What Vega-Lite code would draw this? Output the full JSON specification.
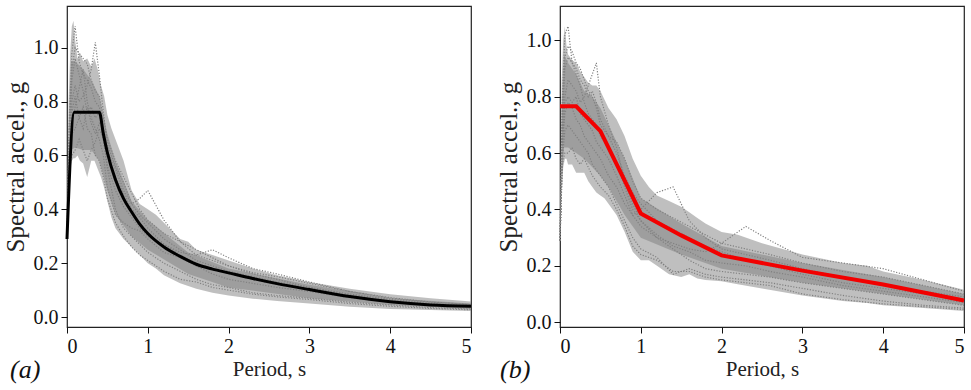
{
  "$schema": "https://vega.github.io/schema/vega-lite/v6.json",
  "background": "white",
  "padding": {"left": 2, "top": 5, "right": 5, "bottom": 0},
  "spacing": 17,
  "config": {
    "font": "Liberation Serif",
    "view": {"stroke": "#222222", "strokeWidth": 1.2},
    "axis": {
      "labelFontSize": 20,
      "titleFontSize": 21,
      "labelFont": "Liberation Serif",
      "titleFont": "Liberation Serif",
      "labelColor": "#111111",
      "titleColor": "#222222",
      "titleFontWeight": "normal",
      "tickColor": "#111111",
      "tickSize": 6,
      "labelPadding": 3,
      "domain": false,
      "grid": false
    },
    "axisY": {"titleFontSize": 25, "titlePadding": 5},
    "axisX": {"titlePadding": 2},
    "title": {"font": "Liberation Serif", "fontSize": 26, "fontStyle": "italic", "fontWeight": "normal", "color": "#111111"}
  },
  "hconcat": [
    {
      "width": 404,
      "height": 321,
      "title": {"text": "(a)", "orient": "bottom", "anchor": "start", "offset": -22, "dx": 7},
      "encoding": {
        "x": {"field": "T", "type": "quantitative", "scale": {"domain": [0, 5], "nice": false, "zero": false}, "axis": {"values": [0, 1, 2, 3, 4, 5], "title": "Period, s"}}
      },
      "layer": [
        {
          "data": {"values": [
            {"T": 0, "lo": 0.28, "hi": 0.3},
            {"T": 0.02, "lo": 0.45, "hi": 0.8},
            {"T": 0.04, "lo": 0.55, "hi": 0.98},
            {"T": 0.06, "lo": 0.58, "hi": 1.08},
            {"T": 0.08, "lo": 0.59, "hi": 1.1},
            {"T": 0.1, "lo": 0.59, "hi": 1.03},
            {"T": 0.13, "lo": 0.6, "hi": 0.96},
            {"T": 0.16, "lo": 0.58, "hi": 0.98},
            {"T": 0.2, "lo": 0.57, "hi": 0.95},
            {"T": 0.25, "lo": 0.52, "hi": 0.96},
            {"T": 0.3, "lo": 0.58, "hi": 0.93},
            {"T": 0.34, "lo": 0.58, "hi": 0.96},
            {"T": 0.38, "lo": 0.55, "hi": 0.92},
            {"T": 0.42, "lo": 0.52, "hi": 0.86},
            {"T": 0.46, "lo": 0.48, "hi": 0.82},
            {"T": 0.5, "lo": 0.43, "hi": 0.75},
            {"T": 0.55, "lo": 0.37, "hi": 0.7},
            {"T": 0.6, "lo": 0.33, "hi": 0.66},
            {"T": 0.7, "lo": 0.29, "hi": 0.58},
            {"T": 0.8, "lo": 0.26, "hi": 0.47},
            {"T": 0.9, "lo": 0.23, "hi": 0.42},
            {"T": 1.0, "lo": 0.2, "hi": 0.4},
            {"T": 1.1, "lo": 0.18, "hi": 0.38},
            {"T": 1.2, "lo": 0.155, "hi": 0.35},
            {"T": 1.4, "lo": 0.125, "hi": 0.29},
            {"T": 1.5, "lo": 0.115, "hi": 0.28},
            {"T": 1.6, "lo": 0.105, "hi": 0.25},
            {"T": 1.8, "lo": 0.09, "hi": 0.23},
            {"T": 2.0, "lo": 0.08, "hi": 0.21},
            {"T": 2.3, "lo": 0.068, "hi": 0.18},
            {"T": 2.6, "lo": 0.06, "hi": 0.155},
            {"T": 3.0, "lo": 0.05, "hi": 0.13},
            {"T": 3.5, "lo": 0.038, "hi": 0.105},
            {"T": 4.0, "lo": 0.03, "hi": 0.085},
            {"T": 4.5, "lo": 0.026, "hi": 0.07},
            {"T": 5.0, "lo": 0.022, "hi": 0.058}
          ]},
          "mark": {"type": "area", "color": "#9c9c9c", "opacity": 0.65},
          "encoding": {
            "y": {"field": "lo", "type": "quantitative", "scale": {"domain": [-0.037, 1.155], "nice": false, "zero": false}, "axis": {"values": [0, 0.2, 0.4, 0.6, 0.8, 1.0], "format": ".1f", "title": "Spectral accel., g"}},
            "y2": {"field": "hi"}
          }
        },
        {
          "data": {"values": [
            {"T": 0.02, "lo": 0.5, "hi": 0.7},
            {"T": 0.05, "lo": 0.62, "hi": 0.95},
            {"T": 0.1, "lo": 0.63, "hi": 0.95},
            {"T": 0.2, "lo": 0.62, "hi": 0.92},
            {"T": 0.3, "lo": 0.62, "hi": 0.88},
            {"T": 0.4, "lo": 0.58, "hi": 0.82},
            {"T": 0.5, "lo": 0.47, "hi": 0.68},
            {"T": 0.6, "lo": 0.38, "hi": 0.58},
            {"T": 0.8, "lo": 0.3, "hi": 0.43},
            {"T": 1.0, "lo": 0.25, "hi": 0.36},
            {"T": 1.5, "lo": 0.16, "hi": 0.24},
            {"T": 2.0, "lo": 0.11, "hi": 0.18},
            {"T": 3.0, "lo": 0.07, "hi": 0.12},
            {"T": 4.0, "lo": 0.045, "hi": 0.07},
            {"T": 5.0, "lo": 0.03, "hi": 0.05}
          ]},
          "mark": {"type": "area", "color": "#888888", "opacity": 0.6},
          "encoding": {
            "y": {"field": "lo", "type": "quantitative"},
            "y2": {"field": "hi"}
          }
        },
        {
          "data": {"values": [
            {"T": 0, "c1": 0.29, "c2": 0.29, "c3": 0.29, "c4": 0.29, "c5": 0.29, "c6": 0.29, "c7": 0.29, "c8": 0.29},
            {"T": 0.03, "c1": 0.75, "c2": 0.55, "c3": 0.65, "c4": 0.6, "c5": 0.62, "c6": 0.68, "c7": 0.58, "c8": 0.7},
            {"T": 0.06, "c1": 0.98, "c2": 0.6, "c3": 0.8, "c4": 0.72, "c5": 0.76, "c6": 0.88, "c7": 0.68, "c8": 0.92},
            {"T": 0.1, "c1": 1.08, "c2": 0.62, "c3": 0.86, "c4": 0.78, "c5": 0.82, "c6": 0.96, "c7": 0.7, "c8": 1.0},
            {"T": 0.15, "c1": 0.95, "c2": 0.66, "c3": 0.8, "c4": 0.85, "c5": 0.74, "c6": 0.9, "c7": 0.74, "c8": 0.98},
            {"T": 0.2, "c1": 0.9, "c2": 0.62, "c3": 0.82, "c4": 0.92, "c5": 0.7, "c6": 0.84, "c7": 0.78, "c8": 0.96},
            {"T": 0.25, "c1": 0.88, "c2": 0.58, "c3": 0.86, "c4": 0.8, "c5": 0.78, "c6": 0.76, "c7": 0.7, "c8": 0.94},
            {"T": 0.3, "c1": 0.85, "c2": 0.62, "c3": 0.92, "c4": 0.74, "c5": 0.72, "c6": 0.78, "c7": 0.68, "c8": 0.88},
            {"T": 0.35, "c1": 0.8, "c2": 0.65, "c3": 1.02, "c4": 0.7, "c5": 0.68, "c6": 0.74, "c7": 0.6, "c8": 0.84},
            {"T": 0.4, "c1": 0.78, "c2": 0.7, "c3": 0.9, "c4": 0.66, "c5": 0.72, "c6": 0.76, "c7": 0.58, "c8": 0.82},
            {"T": 0.45, "c1": 0.7, "c2": 0.66, "c3": 0.76, "c4": 0.6, "c5": 0.7, "c6": 0.66, "c7": 0.52, "c8": 0.74},
            {"T": 0.5, "c1": 0.6, "c2": 0.55, "c3": 0.64, "c4": 0.48, "c5": 0.62, "c6": 0.56, "c7": 0.44, "c8": 0.66},
            {"T": 0.6, "c1": 0.52, "c2": 0.4, "c3": 0.56, "c4": 0.38, "c5": 0.55, "c6": 0.47, "c7": 0.35, "c8": 0.58},
            {"T": 0.7, "c1": 0.46, "c2": 0.33, "c3": 0.5, "c4": 0.35, "c5": 0.47, "c6": 0.41, "c7": 0.3, "c8": 0.52},
            {"T": 0.8, "c1": 0.4, "c2": 0.3, "c3": 0.42, "c4": 0.33, "c5": 0.42, "c6": 0.37, "c7": 0.26, "c8": 0.46},
            {"T": 0.9, "c1": 0.37, "c2": 0.27, "c3": 0.38, "c4": 0.32, "c5": 0.44, "c6": 0.33, "c7": 0.23, "c8": 0.4},
            {"T": 1.0, "c1": 0.33, "c2": 0.24, "c3": 0.35, "c4": 0.29, "c5": 0.47, "c6": 0.3, "c7": 0.21, "c8": 0.36},
            {"T": 1.2, "c1": 0.27, "c2": 0.2, "c3": 0.29, "c4": 0.24, "c5": 0.36, "c6": 0.27, "c7": 0.17, "c8": 0.31},
            {"T": 1.4, "c1": 0.23, "c2": 0.17, "c3": 0.25, "c4": 0.22, "c5": 0.28, "c6": 0.24, "c7": 0.14, "c8": 0.28},
            {"T": 1.6, "c1": 0.2, "c2": 0.14, "c3": 0.21, "c4": 0.19, "c5": 0.23, "c6": 0.23, "c7": 0.13, "c8": 0.25},
            {"T": 1.8, "c1": 0.18, "c2": 0.12, "c3": 0.19, "c4": 0.16, "c5": 0.21, "c6": 0.25, "c7": 0.11, "c8": 0.22},
            {"T": 2.0, "c1": 0.16, "c2": 0.11, "c3": 0.17, "c4": 0.14, "c5": 0.19, "c6": 0.22, "c7": 0.1, "c8": 0.19},
            {"T": 2.3, "c1": 0.14, "c2": 0.09, "c3": 0.15, "c4": 0.125, "c5": 0.16, "c6": 0.18, "c7": 0.085, "c8": 0.165},
            {"T": 2.6, "c1": 0.12, "c2": 0.08, "c3": 0.13, "c4": 0.11, "c5": 0.14, "c6": 0.16, "c7": 0.075, "c8": 0.15},
            {"T": 3.0, "c1": 0.1, "c2": 0.07, "c3": 0.11, "c4": 0.095, "c5": 0.11, "c6": 0.13, "c7": 0.065, "c8": 0.125},
            {"T": 3.5, "c1": 0.075, "c2": 0.055, "c3": 0.08, "c4": 0.072, "c5": 0.085, "c6": 0.095, "c7": 0.05, "c8": 0.095},
            {"T": 4.0, "c1": 0.058, "c2": 0.045, "c3": 0.06, "c4": 0.055, "c5": 0.065, "c6": 0.072, "c7": 0.04, "c8": 0.07},
            {"T": 4.5, "c1": 0.046, "c2": 0.035, "c3": 0.047, "c4": 0.043, "c5": 0.05, "c6": 0.056, "c7": 0.032, "c8": 0.055},
            {"T": 5.0, "c1": 0.038, "c2": 0.03, "c3": 0.04, "c4": 0.036, "c5": 0.042, "c6": 0.046, "c7": 0.027, "c8": 0.047}
          ]},
          "transform": [{"fold": ["c1", "c2", "c3", "c4", "c5", "c6", "c7", "c8"], "as": ["rec", "Sa"]}],
          "mark": {"type": "line", "color": "#808080", "strokeWidth": 1.2, "strokeDash": [1.2, 1.6]},
          "encoding": {
            "y": {"field": "Sa", "type": "quantitative"},
            "detail": {"field": "rec"}
          }
        },
        {
          "data": {"values": [
            {"T": 0, "Sa": 0.29},
            {"T": 0.09, "Sa": 0.76},
            {"T": 0.4, "Sa": 0.76},
            {"T": 0.45, "Sa": 0.68},
            {"T": 0.5, "Sa": 0.61},
            {"T": 0.6, "Sa": 0.51},
            {"T": 0.7, "Sa": 0.44},
            {"T": 0.8, "Sa": 0.39},
            {"T": 0.9, "Sa": 0.345},
            {"T": 1.0, "Sa": 0.31},
            {"T": 1.2, "Sa": 0.26},
            {"T": 1.4, "Sa": 0.225},
            {"T": 1.6, "Sa": 0.196},
            {"T": 1.8, "Sa": 0.178},
            {"T": 2.0, "Sa": 0.164},
            {"T": 2.3, "Sa": 0.143},
            {"T": 2.6, "Sa": 0.124},
            {"T": 3.0, "Sa": 0.102},
            {"T": 3.5, "Sa": 0.076},
            {"T": 4.0, "Sa": 0.057},
            {"T": 4.5, "Sa": 0.045},
            {"T": 5.0, "Sa": 0.04}
          ]},
          "mark": {"type": "line", "color": "#000000", "strokeWidth": 3, "interpolate": "monotone"},
          "encoding": {"y": {"field": "Sa", "type": "quantitative"}}
        }
      ]
    },
    {
      "width": 404,
      "height": 321,
      "title": {"text": "(b)", "orient": "bottom", "anchor": "start", "offset": -22, "dx": 4},
      "encoding": {
        "x": {"field": "T", "type": "quantitative", "scale": {"domain": [0, 5], "nice": false, "zero": false}, "axis": {"values": [0, 1, 2, 3, 4, 5], "title": "Period, s"}}
      },
      "layer": [
        {
          "data": {"values": [
            {"T": 0, "lo": 0.28, "hi": 0.32},
            {"T": 0.02, "lo": 0.45, "hi": 0.85},
            {"T": 0.04, "lo": 0.55, "hi": 1.0},
            {"T": 0.06, "lo": 0.58, "hi": 1.05},
            {"T": 0.08, "lo": 0.58, "hi": 0.98},
            {"T": 0.1, "lo": 0.56, "hi": 0.95},
            {"T": 0.15, "lo": 0.56, "hi": 0.93},
            {"T": 0.2, "lo": 0.53, "hi": 0.92},
            {"T": 0.25, "lo": 0.53, "hi": 0.89},
            {"T": 0.3, "lo": 0.53, "hi": 0.87},
            {"T": 0.35, "lo": 0.5, "hi": 0.85},
            {"T": 0.4, "lo": 0.48, "hi": 0.84},
            {"T": 0.45, "lo": 0.46, "hi": 0.84},
            {"T": 0.5, "lo": 0.45, "hi": 0.82},
            {"T": 0.55, "lo": 0.44, "hi": 0.79},
            {"T": 0.6, "lo": 0.42, "hi": 0.76},
            {"T": 0.7, "lo": 0.38, "hi": 0.72},
            {"T": 0.8, "lo": 0.32, "hi": 0.66},
            {"T": 0.9, "lo": 0.25, "hi": 0.58},
            {"T": 1.0, "lo": 0.22, "hi": 0.52},
            {"T": 1.1, "lo": 0.22, "hi": 0.48},
            {"T": 1.2, "lo": 0.2, "hi": 0.45},
            {"T": 1.35, "lo": 0.17, "hi": 0.43},
            {"T": 1.5, "lo": 0.16, "hi": 0.41},
            {"T": 1.6, "lo": 0.17, "hi": 0.39},
            {"T": 1.7, "lo": 0.155, "hi": 0.37},
            {"T": 1.8, "lo": 0.15, "hi": 0.35},
            {"T": 2.0, "lo": 0.145, "hi": 0.32},
            {"T": 2.2, "lo": 0.135, "hi": 0.31},
            {"T": 2.5, "lo": 0.12, "hi": 0.28},
            {"T": 3.0, "lo": 0.095, "hi": 0.24},
            {"T": 3.5, "lo": 0.075, "hi": 0.21},
            {"T": 3.8, "lo": 0.068, "hi": 0.2},
            {"T": 4.0, "lo": 0.06, "hi": 0.18},
            {"T": 4.5, "lo": 0.05, "hi": 0.15},
            {"T": 5.0, "lo": 0.04, "hi": 0.115}
          ]},
          "mark": {"type": "area", "color": "#9c9c9c", "opacity": 0.65},
          "encoding": {
            "y": {"field": "lo", "type": "quantitative", "scale": {"domain": [-0.017, 1.122], "nice": false, "zero": false}, "axis": {"values": [0, 0.2, 0.4, 0.6, 0.8, 1.0], "format": ".1f", "title": "Spectral accel., g"}},
            "y2": {"field": "hi"}
          }
        },
        {
          "data": {"values": [
            {"T": 0.02, "lo": 0.5, "hi": 0.75},
            {"T": 0.05, "lo": 0.62, "hi": 0.95},
            {"T": 0.1, "lo": 0.62, "hi": 0.92},
            {"T": 0.2, "lo": 0.6, "hi": 0.88},
            {"T": 0.3, "lo": 0.58, "hi": 0.82},
            {"T": 0.4, "lo": 0.55, "hi": 0.8},
            {"T": 0.5, "lo": 0.52, "hi": 0.76},
            {"T": 0.6, "lo": 0.48, "hi": 0.7},
            {"T": 0.8, "lo": 0.38, "hi": 0.58},
            {"T": 1.0, "lo": 0.3, "hi": 0.44},
            {"T": 1.5, "lo": 0.24, "hi": 0.35},
            {"T": 2.0, "lo": 0.19, "hi": 0.27},
            {"T": 3.0, "lo": 0.14, "hi": 0.21},
            {"T": 4.0, "lo": 0.1, "hi": 0.16},
            {"T": 5.0, "lo": 0.06, "hi": 0.1}
          ]},
          "mark": {"type": "area", "color": "#888888", "opacity": 0.6},
          "encoding": {
            "y": {"field": "lo", "type": "quantitative"},
            "y2": {"field": "hi"}
          }
        },
        {
          "data": {"values": [
            {"T": 0, "c1": 0.29, "c2": 0.29, "c3": 0.29, "c4": 0.29, "c5": 0.29, "c6": 0.29, "c7": 0.29, "c8": 0.29},
            {"T": 0.03, "c1": 0.8, "c2": 0.56, "c3": 0.66, "c4": 0.62, "c5": 0.64, "c6": 0.7, "c7": 0.58, "c8": 0.74},
            {"T": 0.06, "c1": 1.02, "c2": 0.6, "c3": 0.8, "c4": 0.74, "c5": 0.78, "c6": 0.9, "c7": 0.68, "c8": 0.94},
            {"T": 0.1, "c1": 1.05, "c2": 0.6, "c3": 0.86, "c4": 0.78, "c5": 0.8, "c6": 0.94, "c7": 0.7, "c8": 0.98},
            {"T": 0.15, "c1": 0.92, "c2": 0.62, "c3": 0.84, "c4": 0.76, "c5": 0.78, "c6": 0.92, "c7": 0.68, "c8": 0.96},
            {"T": 0.2, "c1": 0.9, "c2": 0.58, "c3": 0.82, "c4": 0.72, "c5": 0.8, "c6": 0.88, "c7": 0.66, "c8": 0.92},
            {"T": 0.25, "c1": 0.86, "c2": 0.56, "c3": 0.78, "c4": 0.7, "c5": 0.74, "c6": 0.84, "c7": 0.64, "c8": 0.9},
            {"T": 0.3, "c1": 0.84, "c2": 0.58, "c3": 0.8, "c4": 0.66, "c5": 0.72, "c6": 0.78, "c7": 0.62, "c8": 0.86},
            {"T": 0.35, "c1": 0.8, "c2": 0.55, "c3": 0.84, "c4": 0.64, "c5": 0.7, "c6": 0.74, "c7": 0.6, "c8": 0.82},
            {"T": 0.4, "c1": 0.82, "c2": 0.52, "c3": 0.88, "c4": 0.62, "c5": 0.68, "c6": 0.72, "c7": 0.56, "c8": 0.8},
            {"T": 0.45, "c1": 0.78, "c2": 0.5, "c3": 0.92, "c4": 0.6, "c5": 0.64, "c6": 0.7, "c7": 0.54, "c8": 0.76},
            {"T": 0.5, "c1": 0.72, "c2": 0.48, "c3": 0.8, "c4": 0.58, "c5": 0.62, "c6": 0.66, "c7": 0.52, "c8": 0.7},
            {"T": 0.6, "c1": 0.66, "c2": 0.45, "c3": 0.7, "c4": 0.52, "c5": 0.58, "c6": 0.62, "c7": 0.48, "c8": 0.66},
            {"T": 0.7, "c1": 0.6, "c2": 0.4, "c3": 0.62, "c4": 0.48, "c5": 0.52, "c6": 0.56, "c7": 0.42, "c8": 0.64},
            {"T": 0.8, "c1": 0.52, "c2": 0.34, "c3": 0.5, "c4": 0.42, "c5": 0.45, "c6": 0.48, "c7": 0.36, "c8": 0.58},
            {"T": 0.9, "c1": 0.46, "c2": 0.27, "c3": 0.42, "c4": 0.38, "c5": 0.38, "c6": 0.4, "c7": 0.3, "c8": 0.5},
            {"T": 1.0, "c1": 0.42, "c2": 0.24, "c3": 0.36, "c4": 0.4, "c5": 0.34, "c6": 0.36, "c7": 0.26, "c8": 0.44},
            {"T": 1.2, "c1": 0.36, "c2": 0.22, "c3": 0.31, "c4": 0.46, "c5": 0.3, "c6": 0.3, "c7": 0.23, "c8": 0.4},
            {"T": 1.4, "c1": 0.33, "c2": 0.18, "c3": 0.27, "c4": 0.48, "c5": 0.28, "c6": 0.26, "c7": 0.17, "c8": 0.37},
            {"T": 1.6, "c1": 0.3, "c2": 0.18, "c3": 0.25, "c4": 0.36, "c5": 0.26, "c6": 0.22, "c7": 0.19, "c8": 0.34},
            {"T": 1.8, "c1": 0.27, "c2": 0.16, "c3": 0.22, "c4": 0.3, "c5": 0.25, "c6": 0.19, "c7": 0.17, "c8": 0.31},
            {"T": 2.0, "c1": 0.25, "c2": 0.15, "c3": 0.21, "c4": 0.26, "c5": 0.28, "c6": 0.18, "c7": 0.16, "c8": 0.28},
            {"T": 2.3, "c1": 0.22, "c2": 0.14, "c3": 0.2, "c4": 0.24, "c5": 0.34, "c6": 0.17, "c7": 0.15, "c8": 0.26},
            {"T": 2.6, "c1": 0.2, "c2": 0.13, "c3": 0.18, "c4": 0.22, "c5": 0.29, "c6": 0.16, "c7": 0.14, "c8": 0.24},
            {"T": 3.0, "c1": 0.17, "c2": 0.1, "c3": 0.16, "c4": 0.19, "c5": 0.23, "c6": 0.14, "c7": 0.12, "c8": 0.21},
            {"T": 3.5, "c1": 0.14, "c2": 0.08, "c3": 0.13, "c4": 0.16, "c5": 0.21, "c6": 0.12, "c7": 0.095, "c8": 0.18},
            {"T": 4.0, "c1": 0.12, "c2": 0.065, "c3": 0.11, "c4": 0.13, "c5": 0.19, "c6": 0.1, "c7": 0.075, "c8": 0.16},
            {"T": 4.5, "c1": 0.1, "c2": 0.055, "c3": 0.09, "c4": 0.11, "c5": 0.15, "c6": 0.08, "c7": 0.06, "c8": 0.13},
            {"T": 5.0, "c1": 0.08, "c2": 0.045, "c3": 0.07, "c4": 0.09, "c5": 0.11, "c6": 0.06, "c7": 0.05, "c8": 0.1}
          ]},
          "transform": [{"fold": ["c1", "c2", "c3", "c4", "c5", "c6", "c7", "c8"], "as": ["rec", "Sa"]}],
          "mark": {"type": "line", "color": "#808080", "strokeWidth": 1.2, "strokeDash": [1.2, 1.6]},
          "encoding": {
            "y": {"field": "Sa", "type": "quantitative"},
            "detail": {"field": "rec"}
          }
        },
        {
          "data": {"values": [
            {"T": 0, "Sa": 0.766},
            {"T": 0.2, "Sa": 0.766},
            {"T": 0.5, "Sa": 0.678},
            {"T": 1.0, "Sa": 0.386},
            {"T": 1.5, "Sa": 0.308},
            {"T": 2.0, "Sa": 0.237},
            {"T": 3.0, "Sa": 0.183},
            {"T": 4.0, "Sa": 0.134},
            {"T": 5.0, "Sa": 0.077}
          ]},
          "mark": {"type": "line", "color": "#f20000", "strokeWidth": 4},
          "encoding": {"y": {"field": "Sa", "type": "quantitative"}}
        }
      ]
    }
  ]
}
